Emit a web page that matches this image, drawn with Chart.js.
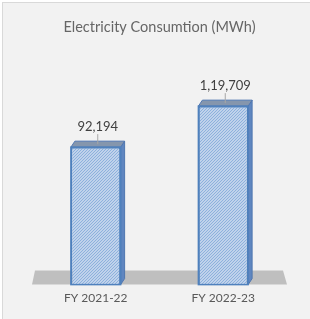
<!DOCTYPE html>
<html>
<head>
<meta charset="utf-8">
<script src="https://cdn.jsdelivr.net/npm/chart.js@4.4.0/dist/chart.umd.min.js"></script>
<style>
  html, body { margin: 0; padding: 0; background: #ffffff; }
  #panel { position: absolute; left: 2px; top: 2px; width: 320px; height: 330px;
           background: #f2f2f2; border: 1px solid #d9d9d9; box-sizing: border-box; }
  #wrap { position: absolute; left: 0; top: 0; width: 310px; height: 319px; }
</style>
</head>
<body>
<div id="panel"></div>
<div id="wrap"><canvas id="c" width="310" height="319"></canvas></div>
<script>
const titleText = 'Electricity Consumtion (MWh)';
const categories = ['FY 2021-22', 'FY 2022-23'];
const consumption = [92194, 119709];
const yMin = 0;
const yMax = 140000;

function formatIndian(n) {
  const s = String(Math.round(n));
  if (s.length <= 3) return s;
  const last3 = s.slice(-3);
  let rest = s.slice(0, -3);
  const parts = [];
  while (rest.length > 2) { parts.unshift(rest.slice(-2)); rest = rest.slice(0, -2); }
  if (rest.length) parts.unshift(rest);
  return parts.join(',') + ',' + last3;
}

function makeHatch() {
  const t = document.createElement('canvas');
  t.width = 3; t.height = 3;
  const g = t.getContext('2d');
  g.fillStyle = '#d6e2f2';
  g.fillRect(0, 0, 3, 3);
  g.strokeStyle = '#8aaedb';
  g.lineWidth = 1.1;
  g.beginPath();
  g.moveTo(-1, 4); g.lineTo(4, -1);
  g.moveTo(-3, 3); g.lineTo(3, -3);
  g.moveTo(0, 6); g.lineTo(6, 0);
  g.stroke();
  return g.createPattern(t, 'repeat');
}

const DEPTH_X = 4, DEPTH_Y = 6;

const threeD = {
  id: 'threeD',
  beforeDatasetsDraw(chart) {
    const ctx = chart.ctx, a = chart.chartArea;
    ctx.save();
    ctx.fillStyle = '#bfbfbf';
    ctx.beginPath();
    ctx.moveTo(a.left, a.bottom);
    ctx.lineTo(a.right, a.bottom);
    ctx.lineTo(a.right - 4, a.bottom - 14);
    ctx.lineTo(a.left + 3, a.bottom - 14);
    ctx.closePath();
    ctx.fill();
    ctx.restore();
  },
  afterDatasetsDraw(chart) {
    const ctx = chart.ctx;
    const meta = chart.getDatasetMeta(0);
    ctx.save();
    meta.data.forEach((bar, i) => {
      const w = bar.width, x0 = bar.x - w / 2, x1 = bar.x + w / 2, top = bar.y, base = bar.base;
      // side face
      ctx.fillStyle = '#5f86c0';
      ctx.strokeStyle = '#4f76b0';
      ctx.lineWidth = 1;
      ctx.beginPath();
      ctx.moveTo(x1, top);
      ctx.lineTo(x1 + DEPTH_X, top - DEPTH_Y);
      ctx.lineTo(x1 + DEPTH_X, base - DEPTH_Y);
      ctx.lineTo(x1, base);
      ctx.closePath();
      ctx.fill(); ctx.stroke();
      // top face
      ctx.fillStyle = '#8596ad';
      ctx.beginPath();
      ctx.moveTo(x0, top);
      ctx.lineTo(x0 + DEPTH_X, top - DEPTH_Y);
      ctx.lineTo(x1 + DEPTH_X, top - DEPTH_Y);
      ctx.lineTo(x1, top);
      ctx.closePath();
      ctx.fill(); ctx.stroke();
      // re-stroke front edge
      ctx.strokeStyle = '#4f81bd';
      ctx.lineWidth = 1.5;
      ctx.strokeRect(x0, top, w, base - top);
      // data label
      const lx = bar.x + DEPTH_X / 2;
      const ly = top - 20;
      ctx.strokeStyle = '#a6a6a6';
      ctx.lineWidth = 1;
      ctx.beginPath();
      ctx.moveTo(lx, ly + 7);
      ctx.lineTo(lx, top - DEPTH_Y / 2);
      ctx.stroke();
      ctx.fillStyle = '#404040';
      ctx.font = '13px Lato';
      ctx.textAlign = 'center';
      ctx.textBaseline = 'middle';
      ctx.fillText(formatIndian(consumption[i]), lx, ly);
    });
    ctx.restore();
  }
};

new Chart(document.getElementById('c'), {
  type: 'bar',
  data: {
    labels: categories,
    datasets: [{
      data: consumption,
      backgroundColor: makeHatch(),
      borderColor: '#4f81bd',
      borderWidth: 1.5,
      barPercentage: 0.39,
      categoryPercentage: 1.0
    }]
  },
  options: {
    responsive: false,
    animation: false,
    events: [],
    layout: { padding: { left: 32, right: 23, top: 0, bottom: 8 } },
    plugins: {
      legend: { display: false },
      tooltip: { enabled: false },
      title: {
        display: true,
        text: titleText,
        color: '#666666',
        font: { family: 'Lato', size: 14.5, weight: 'normal' },
        padding: { top: 18.5, bottom: 40 }
      }
    },
    scales: {
      x: {
        grid: { display: false, drawTicks: false },
        border: { display: false },
        ticks: { color: '#595959', font: { family: 'Lato', size: 12 }, padding: 6 }
      },
      y: {
        display: false,
        min: yMin,
        max: yMax
      }
    }
  },
  plugins: [threeD]
});
</script>
</body>
</html>
